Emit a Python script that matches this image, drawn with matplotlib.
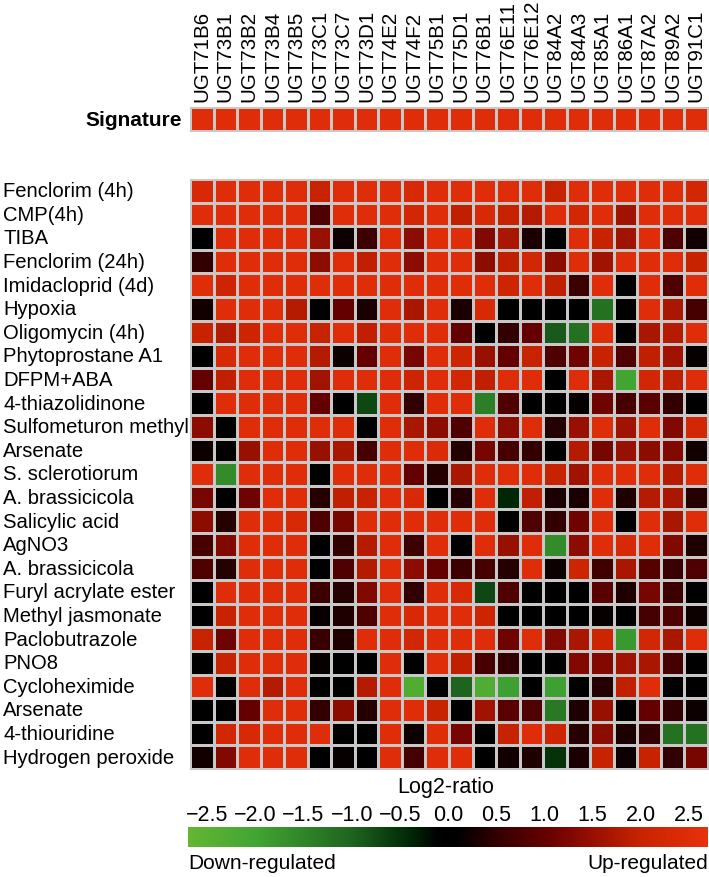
import numpy as np
import matplotlib
matplotlib.use("Agg")
import matplotlib.pyplot as plt
import matplotlib.transforms as mtransforms
from matplotlib.colors import LinearSegmentedColormap

plt.rcParams['font.family'] = ['Liberation Sans', 'DejaVu Sans']

genes = ["UGT71B6", "UGT73B1", "UGT73B2", "UGT73B4", "UGT73B5", "UGT73C1", "UGT73C7",
         "UGT73D1", "UGT74E2", "UGT74F2", "UGT75B1", "UGT75D1", "UGT76B1", "UGT76E11",
         "UGT76E12", "UGT84A2", "UGT84A3", "UGT85A1", "UGT86A1", "UGT87A2", "UGT89A2", "UGT91C1"]

treatments = ["Fenclorim (4h)", "CMP(4h)", "TIBA", "Fenclorim (24h)", "Imidacloprid (4d)",
              "Hypoxia", "Oligomycin (4h)", "Phytoprostane A1", "DFPM+ABA", "4-thiazolidinone",
              "Sulfometuron methyl", "Arsenate", "S. sclerotiorum", "A. brassicicola",
              "Salicylic acid", "AgNO3", "A. brassicicola", "Furyl acrylate ester",
              "Methyl jasmonate", "Paclobutrazole", "PNO8", "Cycloheximide", "Arsenate",
              "4-thiouridine", "Hydrogen peroxide"]

signature = [2.5] * 22

# log2 ratios, one row per treatment (estimated from the colours)
log2_ratio = [
    [2.3, 2.5, 2.5, 2.5, 2.5, 2.0, 2.5, 2.5, 2.5, 2.3, 2.5, 2.5, 2.5, 2.5, 2.5, 2.0, 2.5, 2.5, 2.5, 2.5, 2.5, 2.2],
    [2.5, 2.5, 2.5, 2.5, 2.5, 0.8, 2.5, 2.5, 2.5, 2.2, 2.5, 1.9, 2.3, 2.0, 1.8, 2.5, 2.2, 2.5, 1.6, 2.5, 2.5, 2.5],
    [0.0, 2.5, 2.5, 2.5, 2.5, 1.5, 0.2, 0.6, 2.5, 1.4, 2.5, 2.5, 1.3, 1.7, 0.3, 0.0, 2.5, 2.0, 1.6, 2.5, 0.8, 0.25],
    [0.5, 2.5, 2.5, 2.5, 2.5, 1.4, 2.5, 1.9, 2.5, 1.4, 2.5, 2.5, 1.4, 1.9, 2.2, 1.4, 2.5, 1.6, 2.5, 2.5, 2.5, 2.0],
    [2.5, 2.1, 2.5, 2.5, 2.5, 2.5, 2.5, 2.5, 2.5, 2.5, 2.5, 2.5, 2.5, 2.1, 2.5, 1.9, 0.6, 2.5, 0.0, 2.5, 0.8, 2.5],
    [0.25, 2.5, 2.5, 2.5, 1.8, 0.0, 1.0, 0.3, 2.5, 1.7, 2.5, 0.3, 2.3, 0.0, 0.1, 0.0, 0.0, -1.2, 0.0, 2.5, 1.7, 0.7],
    [2.0, 1.8, 2.1, 2.5, 2.5, 2.0, 2.5, 1.9, 2.5, 2.5, 2.5, 1.0, 0.1, 0.5, 1.0, -0.9, -1.2, 2.5, 0.0, 1.7, 1.8, 2.5],
    [0.0, 2.3, 2.5, 2.5, 2.5, 1.8, 0.2, 1.0, 2.5, 1.2, 2.5, 2.1, 1.5, 1.0, 2.0, 0.8, 1.1, 2.0, 0.8, 1.9, 1.6, 0.15],
    [1.0, 1.9, 2.5, 2.5, 2.5, 1.6, 2.5, 2.5, 2.5, 2.1, 2.5, 2.2, 1.9, 2.5, 2.5, 0.0, 2.5, 1.7, -2.0, 2.2, 1.9, 2.5],
    [0.0, 2.5, 2.5, 2.5, 2.5, 1.0, 0.0, -0.7, 2.5, 0.5, 2.5, 2.5, -1.4, 0.8, 0.0, 0.0, 0.15, 1.1, 0.7, 0.9, 0.5, 0.0],
    [1.4, 0.0, 2.5, 2.5, 2.5, 2.5, 2.5, 0.0, 2.5, 1.7, 1.4, 0.8, 2.5, 1.4, 2.5, 0.4, 1.5, 2.5, 1.6, 2.5, 1.3, 2.2],
    [0.2, 0.05, 1.5, 2.5, 2.5, 1.5, 1.7, 0.7, 2.5, 2.5, 2.4, 0.4, 1.2, 0.7, 0.5, 0.0, 1.8, 1.2, 1.5, 1.4, 1.3, 0.25],
    [2.5, -1.6, 2.5, 2.5, 2.5, 0.0, 2.5, 2.5, 2.5, 1.0, 0.4, 1.7, 2.5, 2.5, 2.5, 2.0, 1.6, 2.5, 2.5, 2.5, 1.8, 2.5],
    [1.2, 0.0, 1.1, 2.5, 2.5, 0.4, 1.9, 2.0, 2.5, 2.3, 0.0, 0.4, 2.5, -0.4, 1.9, 0.3, 0.3, 2.5, 0.35, 1.8, 1.7, 0.4],
    [1.4, 0.4, 2.5, 2.5, 2.3, 0.8, 1.2, 2.5, 2.5, 2.5, 2.5, 2.5, 2.5, 0.1, 0.8, 0.5, 1.1, 2.5, 0.0, 2.5, 1.7, 2.5],
    [0.7, 1.3, 2.5, 2.5, 2.5, 0.1, 0.5, 1.8, 2.5, 0.6, 2.5, 0.0, 2.5, 1.5, 2.5, -1.6, 1.4, 2.5, 2.3, 2.5, 1.3, 0.35],
    [0.8, 0.4, 2.5, 2.5, 2.5, 0.0, 0.8, 1.8, 2.5, 1.4, 1.0, 0.6, 0.7, 0.4, 2.5, 0.2, 2.1, 0.65, 1.7, 0.85, 0.55, 0.8],
    [0.0, 2.5, 2.5, 2.5, 2.5, 0.6, 0.4, 1.3, 2.5, 0.5, 2.5, 2.3, -0.7, 0.8, 0.0, 0.0, 0.1, 0.9, 0.35, 1.2, 0.6, 0.0],
    [0.0, 2.0, 2.5, 2.5, 2.5, 0.15, 0.35, 0.8, 2.5, 2.3, 2.5, 2.5, 2.1, 0.0, 0.0, 0.0, 0.0, 0.15, 0.0, 0.7, 0.8, 0.2],
    [2.0, 1.1, 2.5, 2.5, 2.5, 0.55, 0.35, 2.5, 2.5, 2.2, 2.5, 2.5, 2.5, 1.1, 2.5, 1.3, 1.7, 2.1, -1.8, 2.2, 1.7, 2.5],
    [0.0, 2.0, 2.5, 2.5, 2.5, 0.15, 0.0, 0.0, 2.5, 0.1, 2.5, 1.9, 0.7, 0.5, 0.0, 0.0, 1.3, 1.3, 1.6, 1.7, 0.7, 0.0],
    [2.5, -0.1, 2.5, 1.8, 2.5, 0.05, 0.0, 1.8, 2.5, -2.3, 0.0, -1.0, -2.3, -1.9, 0.0, -1.9, 0.0, 0.4, 1.9, 2.5, 0.0, 0.0],
    [0.0, 0.0, 1.0, 2.5, 2.5, 0.5, 1.4, 0.4, 2.5, 2.5, 2.0, 0.0, 1.6, 0.9, 0.8, -1.3, 0.35, 1.5, 0.0, 1.0, 0.5, 0.2],
    [0.0, 2.2, 2.3, 2.5, 2.5, 2.5, 0.0, 0.0, 2.5, 0.2, 2.5, 1.2, 0.0, 2.0, 2.5, 2.1, 0.4, 1.4, 0.3, 0.5, -1.2, -1.2],
    [0.25, 1.3, 2.5, 2.5, 2.5, 0.1, 0.15, 0.0, 2.5, 0.7, 2.5, 2.5, 0.0, 0.25, 0.35, -0.5, 0.3, 2.0, 0.2, 2.0, 0.5, 1.2],
]

cbar_ticks = [-2.5, -2.0, -1.5, -1.0, -0.5, 0.0, 0.5, 1.0, 1.5, 2.0, 2.5]

vmin, vmax = -2.7, 2.7
nodes = [(-2.7, (100, 182, 50)), (-2.0, (65, 165, 50)), (-1.0, (30, 100, 30)),
         (-0.4, (0, 40, 5)), (-0.1, (0, 0, 0)), (0.1, (0, 0, 0)), (0.5, (50, 0, 0)),
         (1.0, (100, 0, 0)), (1.5, (150, 15, 0)), (2.0, (200, 35, 0)), (2.7, (232, 48, 12))]
cmap = LinearSegmentedColormap.from_list(
    "gr", [((v - vmin) / (vmax - vmin), tuple(c / 255 for c in col)) for v, col in nodes])

W, H = 709, 878
fig = plt.figure(figsize=(W / 100, H / 100), dpi=100)

def fig_rect(x0, y0, x1, y1):
    return [x0 / W, 1 - y1 / H, (x1 - x0) / W, (y1 - y0) / H]

grid_col = "#c8c8c8"
data = np.array(log2_ratio)

# signature strip
ax_sig = fig.add_axes(fig_rect(190, 108, 708, 132))
ax_sig.pcolormesh(np.array([signature]), cmap=cmap, vmin=vmin, vmax=vmax,
                  edgecolors=grid_col, linewidth=1.0)
ax_sig.set_xlim(0, len(genes))
ax_sig.set_ylim(0, 1)
ax_sig.xaxis.tick_top()
ax_sig.set_xticks(np.arange(len(genes)) + 0.5)
ax_sig.set_xticklabels(genes, rotation=90, fontsize=14.8)
ax_sig.tick_params(axis='x', length=0, pad=4)
ax_sig.set_yticks([])
for s in ax_sig.spines.values():
    s.set_color(grid_col)
fig.text(182 / W, 1 - 120 / H, "Signature", ha='right', va='center',
         fontsize=15, fontweight='bold')

# main heatmap
ax = fig.add_axes(fig_rect(190, 180, 708, 770))
mesh = ax.pcolormesh(data, cmap=cmap, vmin=vmin, vmax=vmax,
                     edgecolors=grid_col, linewidth=1.0)
ax.set_xlim(0, len(genes))
ax.set_ylim(len(treatments), 0)
ax.set_xticks([])
ax.set_yticks([])
for s in ax.spines.values():
    s.set_color(grid_col)
ax.set_zorder(5)

trans = mtransforms.blended_transform_factory(fig.transFigure, ax.transData)
for i, name in enumerate(treatments):
    fig.text(3 / W, i + 0.5, name, transform=trans, ha='left', va='center', fontsize=14.6)

fig.text(446 / W, 1 - 787 / H, "Log2-ratio", ha='center', va='center', fontsize=15.5)

# colour bar
cax = fig.add_axes(fig_rect(188, 828, 708, 848))
cb = fig.colorbar(mesh, cax=cax, orientation='horizontal')
cb.outline.set_visible(False)
cax.xaxis.set_ticks_position('top')
cb.set_ticks(cbar_ticks)
cb.set_ticklabels([f"{t:.1f}".replace("-", "\u2212") for t in cbar_ticks])
cax.tick_params(axis='x', length=0, pad=1.5, labelsize=15.5)

fig.text(188 / W, 1 - 864 / H, "Down-regulated", ha='left', va='center', fontsize=15)
fig.text(708 / W, 1 - 864 / H, "Up-regulated", ha='right', va='center', fontsize=15)

fig.savefig("out.png", dpi=100)
